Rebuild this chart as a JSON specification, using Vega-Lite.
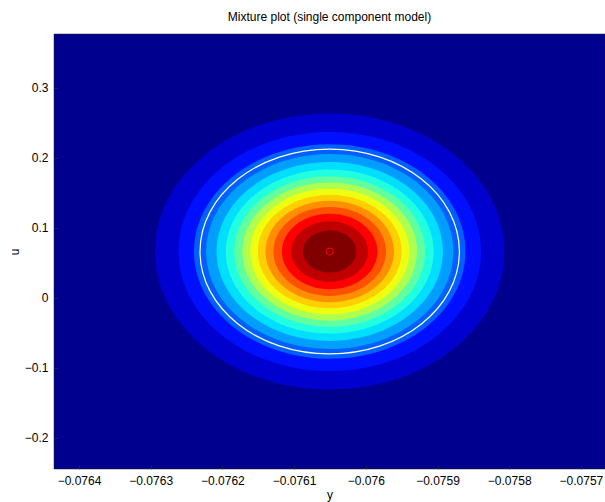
{
  "$schema": "https://vega.github.io/schema/vega-lite/v6.json",
  "width": 551,
  "height": 435,
  "autosize": {"type": "none"},
  "padding": {"left": 54, "top": 34, "right": 0, "bottom": 33},
  "background": "white",
  "title": {
    "text": "Mixture plot (single component model)",
    "font": "Liberation Sans",
    "fontSize": 12,
    "fontWeight": "normal",
    "color": "black",
    "baseline": "alphabetic",
    "offset": 1
  },
  "config": {
    "font": "Liberation Sans",
    "view": {"fill": "#00008F", "stroke": "#202020", "strokeWidth": 0.5},
    "axis": {
      "grid": false,
      "domain": false,
      "ticks": true,
      "tickSize": -4,
      "tickColor": "#303030",
      "tickWidth": 0.6,
      "labelFont": "Liberation Sans",
      "labelFontSize": 12,
      "labelColor": "black",
      "titleFont": "Liberation Sans",
      "titleFontSize": 12,
      "titleFontWeight": "normal",
      "titleColor": "black"
    }
  },
  "datasets": {
    "levels": [
      {"level": 1, "y": -0.07605035, "u": 0.06643, "halfwidth": 0.00024363},
      {"level": 2, "y": -0.07605035, "u": 0.06643, "halfwidth": 0.00021098},
      {"level": 3, "y": -0.07605035, "u": 0.06643, "halfwidth": 0.00018930},
      {"level": 4, "y": -0.07605035, "u": 0.06643, "halfwidth": 0.00017227},
      {"level": 5, "y": -0.07605035, "u": 0.06643, "halfwidth": 0.00015780},
      {"level": 6, "y": -0.07605035, "u": 0.06643, "halfwidth": 0.00014490},
      {"level": 7, "y": -0.07605035, "u": 0.06643, "halfwidth": 0.00013303},
      {"level": 8, "y": -0.07605035, "u": 0.06643, "halfwidth": 0.00012181},
      {"level": 9, "y": -0.07605035, "u": 0.06643, "halfwidth": 0.00011098},
      {"level": 10, "y": -0.07605035, "u": 0.06643, "halfwidth": 0.00010031},
      {"level": 11, "y": -0.07605035, "u": 0.06643, "halfwidth": 0.00008957},
      {"level": 12, "y": -0.07605035, "u": 0.06643, "halfwidth": 0.00007848},
      {"level": 13, "y": -0.07605035, "u": 0.06643, "halfwidth": 0.00006667},
      {"level": 14, "y": -0.07605035, "u": 0.06643, "halfwidth": 0.00005346},
      {"level": 15, "y": -0.07605035, "u": 0.06643, "halfwidth": 0.00003717}
    ],
    "confidence": [
      {"y": -0.07605035, "u": 0.06643, "halfwidth": 0.00018089}
    ],
    "mean": [
      {"y": -0.07605035, "u": 0.06643}
    ]
  },
  "encoding": {
    "x": {
      "field": "y",
      "type": "quantitative",
      "title": "y",
      "scale": {"domain": [-0.07643487, -0.07566639], "nice": false, "zero": false},
      "axis": {
        "values": [-0.0764, -0.0763, -0.0762, -0.0761, -0.076, -0.0759, -0.0758, -0.0757],
        "format": "~g",
        "labelPadding": 10,
        "titleBaseline": "alphabetic",
        "titleY": 29
      }
    },
    "y": {
      "field": "u",
      "type": "quantitative",
      "title": "u",
      "scale": {"domain": [-0.24429, 0.37714], "nice": false, "zero": false},
      "axis": {
        "values": [-0.2, -0.1, 0, 0.1, 0.2, 0.3],
        "format": "~g",
        "labelPadding": 10,
        "titleBaseline": "alphabetic",
        "titleX": -36
      }
    }
  },
  "layer": [
    {
      "data": {"name": "levels"},
      "mark": {
        "type": "point",
        "shape": "M-1,0C-1,-0.4363,-0.5523,-0.79,0,-0.79C0.5523,-0.79,1,-0.4363,1,0C1,0.4363,0.5523,0.79,0,0.79C-0.5523,0.79,-1,0.4363,-1,0Z",
        "filled": true,
        "opacity": 1,
        "strokeWidth": 0
      },
      "encoding": {
        "order": {"field": "level", "type": "quantitative"},
        "size": {
          "field": "halfwidth",
          "type": "quantitative",
          "scale": {"type": "pow", "exponent": 2, "domain": [0, 0.0003], "range": [0, 185072]},
          "legend": null
        },
        "color": {
          "field": "level",
          "type": "ordinal",
          "scale": {
            "domain": [1, 2, 3, 4, 5, 6, 7, 8, 9, 10, 11, 12, 13, 14, 15],
            "range": ["#0000CF", "#0010FF", "#0060FF", "#009FFF", "#00DFFF", "#20FFDF", "#60FF9F", "#AFFF50", "#EFFF10", "#FFCF00", "#FF8F00", "#FF5000", "#FF0000", "#BF0000", "#800000"]
          },
          "legend": null
        }
      }
    },
    {
      "data": {"name": "confidence"},
      "mark": {
        "type": "point",
        "shape": "M-1,0C-1,-0.4363,-0.5523,-0.79,0,-0.79C0.5523,-0.79,1,-0.4363,1,0C1,0.4363,0.5523,0.79,0,0.79C-0.5523,0.79,-1,0.4363,-1,0Z",
        "filled": false,
        "opacity": 1,
        "color": "white",
        "strokeWidth": 1.2
      },
      "encoding": {
        "size": {"field": "halfwidth", "type": "quantitative", "legend": null}
      }
    },
    {
      "data": {"name": "mean"},
      "mark": {
        "type": "point",
        "shape": "circle",
        "filled": false,
        "opacity": 1,
        "color": "#FF0000",
        "size": 50,
        "strokeWidth": 1
      }
    }
  ]
}
